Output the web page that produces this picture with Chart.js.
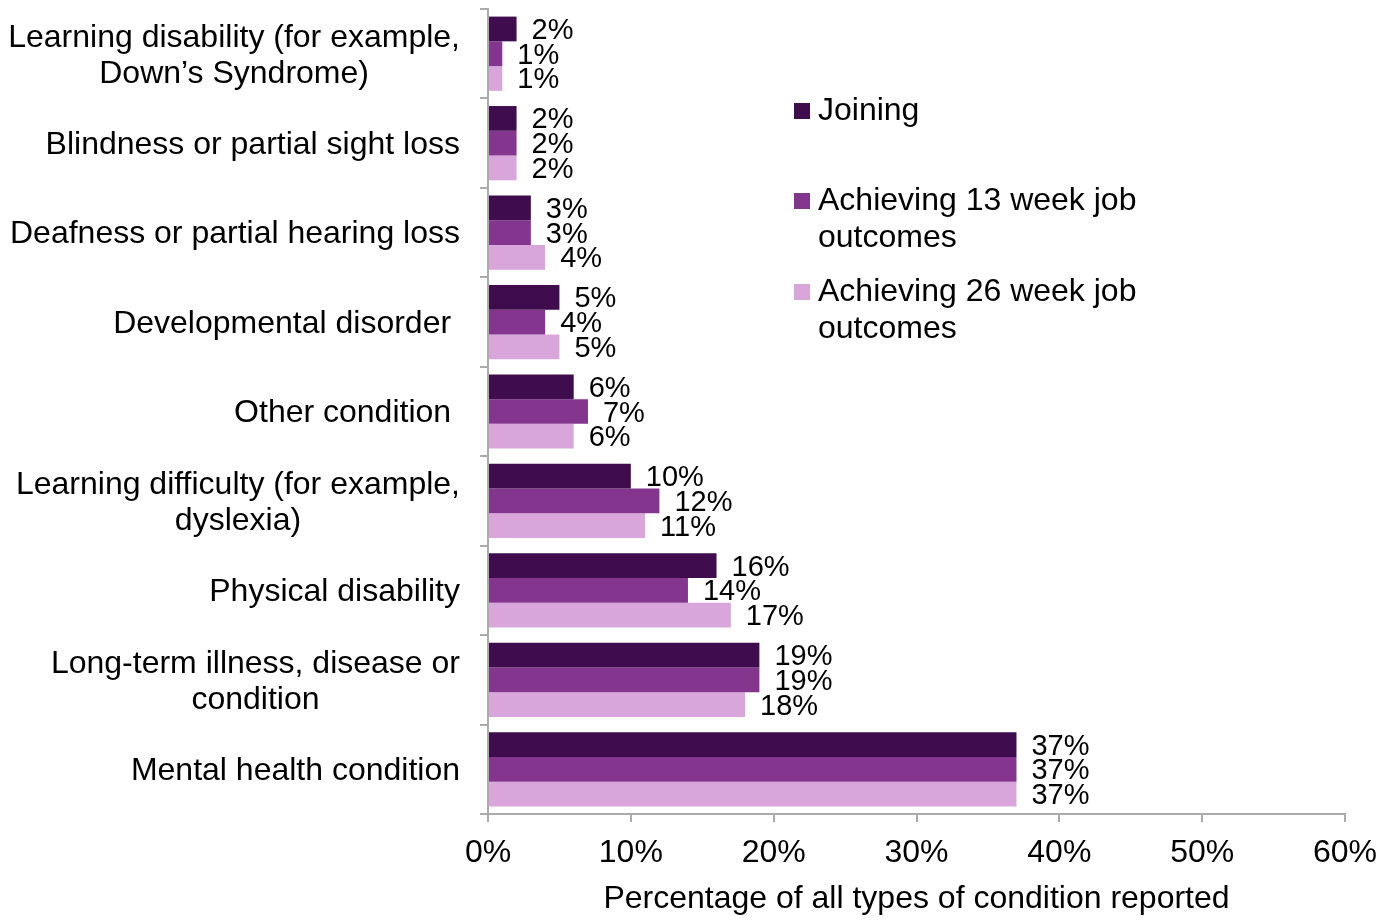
<!DOCTYPE html>
<html>
<head>
<meta charset="utf-8">
<script src="https://cdn.jsdelivr.net/npm/chart.js@4/dist/chart.umd.min.js"></script>
<style>
  html, body { margin: 0; padding: 0; background: #fff; }
  #wrap { width: 1393px; height: 922px; }
</style>
</head>
<body>
<div id="wrap"><canvas id="chart" width="1393" height="922"></canvas></div>
<script>
// categories (each entry = lines of the label)
const categories = [
  ["Learning disability (for example,", "Down\u2019s Syndrome)"],
  ["Blindness or partial sight loss"],
  ["Deafness or partial hearing loss"],
  ["Developmental disorder "],
  ["Other condition "],
  ["Learning difficulty (for example,", "dyslexia)"],
  ["Physical disability"],
  ["Long-term illness, disease or", "condition"],
  ["Mental health condition"],
];
const seriesNames = [
  ["Joining"],
  ["Achieving 13 week job", "outcomes"],
  ["Achieving 26 week job", "outcomes"],
];
const joining = [2, 2, 3, 5, 6, 10, 16, 19, 37];
const week13 = [1, 2, 3, 4, 7, 12, 14, 19, 37];
const week26 = [1, 2, 4, 5, 6, 11, 17, 18, 37];
const xTicks = [0, 10, 20, 30, 40, 50, 60];
const colors = ["#3f0d4e", "#84368f", "#d8a6db"];

const FONT = "Liberation Sans, Arial, sans-serif";
const axisGray = "#ababab";

// y-axis labels: block right-aligned, lines centered within block
const yLabelPlugin = {
  id: "yLabels",
  afterDraw(chart) {
    const ctx = chart.ctx;
    const y = chart.scales.y;
    ctx.save();
    ctx.font = "32px " + FONT;
    ctx.fillStyle = "#000";
    ctx.textBaseline = "middle";
    ctx.textAlign = "center";
    const right = 460, lh = 36;
    categories.forEach((lines, i) => {
      const cy = y.getPixelForTick(i);
      const w = Math.max(...lines.map((l) => ctx.measureText(l).width));
      const cx = right - w / 2;
      const top = cy - ((lines.length - 1) * lh) / 2 + 2;
      lines.forEach((l, k) => ctx.fillText(l, cx, top + k * lh));
    });
    ctx.restore();
  },
};

// value labels right of each bar
const valueLabelPlugin = {
  id: "valueLabels",
  afterDatasetsDraw(chart) {
    const ctx = chart.ctx;
    ctx.save();
    ctx.font = "29px " + FONT;
    ctx.fillStyle = "#000";
    ctx.textBaseline = "middle";
    ctx.textAlign = "left";
    chart.data.datasets.forEach((ds, di) => {
      chart.getDatasetMeta(di).data.forEach((el, i) => {
        ctx.fillText(ds.data[i] + "%", el.x + 15, el.y + 2);
      });
    });
    ctx.restore();
  },
};

// legend placed inside the plot area, like the original
const legendPlugin = {
  id: "sideLegend",
  afterDraw(chart) {
    const ctx = chart.ctx;
    ctx.save();
    ctx.font = "32px " + FONT;
    ctx.textBaseline = "middle";
    ctx.textAlign = "left";
    const itemY = [111, 201, 292];
    seriesNames.forEach((lines, i) => {
      ctx.fillStyle = colors[i];
      ctx.fillRect(794, itemY[i] - 8, 16, 16);
      ctx.fillStyle = "#000";
      lines.forEach((l, k) => ctx.fillText(l, 818, itemY[i] + k * 37));
    });
    ctx.restore();
  },
};

const chart = new Chart(document.getElementById("chart").getContext("2d"), {
  type: "bar",
  data: {
    labels: categories.map((c) => c.join(" ")),
    datasets: [
      { label: seriesNames[0].join(" "), data: joining, backgroundColor: colors[0] },
      { label: seriesNames[1].join(" "), data: week13, backgroundColor: colors[1] },
      { label: seriesNames[2].join(" "), data: week26, backgroundColor: colors[2] },
    ],
  },
  options: {
    indexAxis: "y",
    responsive: false,
    animation: false,
    layout: { padding: { top: 9, right: 48, bottom: 0, left: 0 } },
    datasets: { bar: { categoryPercentage: 0.83, barPercentage: 1.0 } },
    plugins: {
      legend: { display: false },
      tooltip: { enabled: false },
    },
    scales: {
      x: {
        min: 0,
        max: 60,
        afterBuildTicks(s) {
          s.ticks = xTicks.map((v) => ({ value: v }));
        },
        afterFit(s) {
          s.height = 108;
        },
        ticks: {
          callback: (v) => v + "%",
          color: "#000",
          font: { size: 32, family: FONT },
          padding: 12,
          maxRotation: 0,
        },
        grid: {
          drawOnChartArea: false,
          drawTicks: true,
          tickLength: 8,
          color: axisGray,
          lineWidth: 2,
        },
        border: { color: axisGray, width: 2 },
        title: {
          display: true,
          text: "Percentage of all types of condition reported",
          color: "#000",
          font: { size: 32, family: FONT },
          padding: { top: 0, bottom: 4 },
        },
      },
      y: {
        afterFit(s) {
          s.width = 488;
        },
        ticks: { display: false },
        grid: {
          offset: true,
          drawOnChartArea: false,
          drawTicks: true,
          tickLength: 8,
          color: axisGray,
          lineWidth: 2,
        },
        border: { color: axisGray, width: 2 },
      },
    },
  },
  plugins: [yLabelPlugin, valueLabelPlugin, legendPlugin],
});
</script>
</body>
</html>
